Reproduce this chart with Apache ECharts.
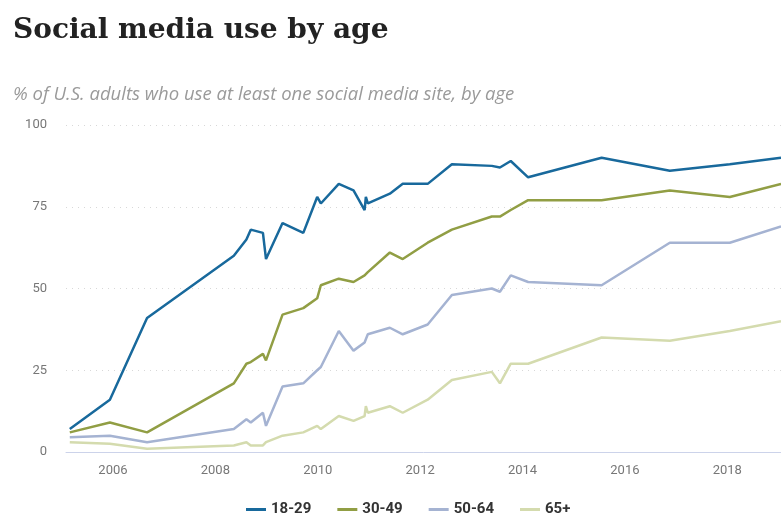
<!DOCTYPE html>
<html>
<head>
<meta charset="utf-8">
<script src="https://cdn.jsdelivr.net/npm/echarts@6/dist/echarts.min.js"></script>
<style>
  html, body { margin: 0; padding: 0; background: #fff; }
  #chart { width: 781px; height: 517px; }
</style>
</head>
<body>
<div id="chart"></div>
<script>
// survey dates
var dates = ['2005-02-27', '2005-12-10', '2006-09-01', '2008-05-12', '2008-08-10', '2008-09-10',
    '2008-12-06', '2008-12-28', '2009-04-25', '2009-09-20', '2009-12-28', '2010-01-23',
    '2010-05-31', '2010-09-13', '2010-12-01', '2010-12-10', '2010-12-24', '2011-05-30',
    '2011-08-30', '2012-02-24', '2012-08-15', '2013-05-27', '2013-07-24', '2013-10-09',
    '2014-02-10', '2015-07-19', '2016-11-17', '2018-01-19', '2019-01-19'];

var age18_29 = [7, 16, 41, 60, 65, 68, 67, 59, 70, 67, 78, 76, 82, 80, 74, 78, 76, 79, 82, 82, 88, 87.5, 87, 89, 84, 90, 86, 88, 90];
var age30_49 = [6, 9, 6, 21, 27, 27.5, 30, 28, 42, 44, 47, 51, 53, 52, 54, 54.5, 55, 61, 59, 64, 68, 72, 72, 74, 77, 77, 80, 78, 82];
var age50_64 = [4.5, 5, 3, 7, 10, 9, 12, 8, 20, 21, 25, 26, 37, 31, 33.5, 34.5, 36, 38, 36, 39, 48, 50, 49, 54, 52, 51, 64, 64, 69];
var age65 = [3, 2.5, 1, 2, 3, 2, 2, 3, 5, 6, 8, 7, 11, 9.5, 11, 14, 12, 14, 12, 16, 22, 24.5, 21, 27, 27, 35, 34, 37, 40];

var seriesNames = ['18-29', '30-49', '50-64', '65+'];
var colors = ['#18699c', '#919e44', '#a5b3d2', '#d4dbae'];
var yearTicks = [2006, 2008, 2010, 2012, 2014, 2016, 2018];

// date string -> fractional year, so the x axis can be a plain value axis
function toYear(s) {
    var p = s.split('-');
    var y = +p[0];
    var start = Date.UTC(y, 0, 1), end = Date.UTC(y + 1, 0, 1);
    return y + (Date.UTC(y, +p[1] - 1, +p[2]) - start) / (end - start);
}

function pairs(vals) {
    return dates.map(function (d, i) { return [toYear(d), vals[i]]; });
}

var myChart = echarts.init(document.getElementById('chart'));

option = {
    animation: false,
    color: colors,
    title: [
        {
            text: 'Social media use by age',
            left: 13,
            top: 17,
            padding: 0,
            textStyle: {
                fontFamily: 'DejaVu Serif',
                fontWeight: 'bold',
                fontSize: 28,
                color: '#222'
            }
        },
        {
            text: '% of U.S. adults who use at least one social media site, by age',
            left: 13,
            top: 85,
            padding: 0,
            textStyle: {
                fontFamily: 'Open Sans',
                fontStyle: 'italic',
                fontWeight: 'normal',
                fontSize: 18.5,
                color: '#9a9a9a'
            }
        }
    ],
    legend: {
        data: seriesNames,
        top: 502,
        left: 246,
        padding: 0,
        icon: 'rect',
        itemWidth: 20,
        itemHeight: 3,
        itemGap: 26,
        textStyle: {
            fontFamily: 'Roboto',
            fontWeight: 'bold',
            fontSize: 15,
            color: '#333'
        }
    },
    grid: {
        left: 66,
        right: 0,
        top: 125,
        bottom: 65,
        containLabel: false
    },
    xAxis: {
        type: 'value',
        min: toYear('2005-01-31'),
        max: toYear('2019-01-19'),
        axisLine: {
            lineStyle: { color: '#ccd3ea', width: 1 }
        },
        axisTick: { show: false },
        splitLine: { show: false },
        axisLabel: {
            customValues: yearTicks,
            formatter: function (v) { return String(Math.round(v)); },
            margin: 12,
            fontFamily: 'Roboto',
            fontSize: 13,
            color: '#777'
        }
    },
    yAxis: {
        type: 'value',
        min: 0,
        max: 100,
        interval: 25,
        axisLine: { show: false },
        axisTick: { show: false },
        splitLine: {
            lineStyle: { color: '#d8d8d8', type: [1, 5] }
        },
        axisLabel: {
            margin: 19,
            fontFamily: 'Roboto',
            fontSize: 13,
            color: '#777'
        }
    },
    series: [
        { name: '18-29', type: 'line', data: pairs(age18_29) },
        { name: '30-49', type: 'line', data: pairs(age30_49) },
        { name: '50-64', type: 'line', data: pairs(age50_64) },
        { name: '65+', type: 'line', data: pairs(age65) }
    ].map(function (s, i) {
        s.showSymbol = false;
        s.symbol = 'none';
        s.lineStyle = { width: 2.5, color: colors[i] };
        s.z = 10 - i;
        return s;
    })
};

myChart.setOption(option);
</script>
</body>
</html>
